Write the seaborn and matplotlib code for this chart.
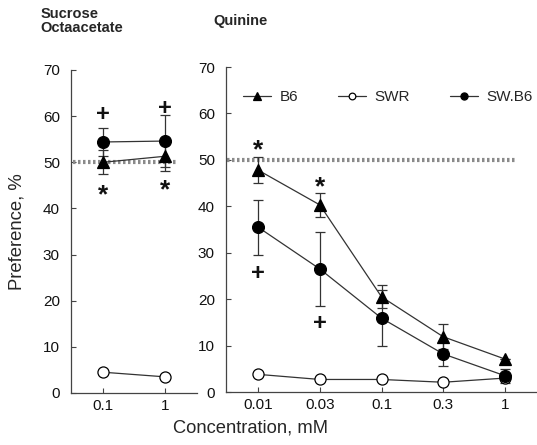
import pandas as pd
import matplotlib.pyplot as plt
import seaborn as sns

# Sucrose octaacetate (left panel)
soa_conc = ['0.1', '1']
soa_b6 = [50.0, 51.3]
soa_b6_err = [2.6, 3.1]
soa_swr = [4.5, 3.5]
soa_swb6 = [54.4, 54.6]
soa_swb6_err = [3.0, 5.6]
soa_star = [44.3, 45.3]     # asterisks under B6
soa_plus = [61.2, 62.4]     # plus signs over SW.B6

# Quinine (right panel)
qui_conc = ['0.01', '0.03', '0.1', '0.3', '1']
qui_b6 = [47.8, 40.3, 20.5, 11.9, 7.1]
qui_b6_err = [2.8, 2.6, 2.5, 2.7, 0.0]
qui_swr = [3.8, 2.7, 2.7, 2.1, 3.0]
qui_swb6 = [35.5, 26.5, 15.9, 8.2, 3.5]
qui_swb6_err = [5.9, 8.0, 6.0, 2.7, 1.5]
qui_star = [53.4, 45.5, None, None, None]
qui_plus = [26.3, 15.5, None, None, None]

sns.set_theme(style='ticks')
plt.rcParams['font.family'] = ['Liberation Sans', 'DejaVu Sans']

fig = plt.figure(figsize=(5.37, 4.45), dpi=100)
ax1 = fig.add_axes([0.1322, 0.1169, 0.2346, 0.7258])
ax2 = fig.add_axes([0.4209, 0.1191, 0.5791, 0.7303])

line_c = '#333333'
styles = {
    'B6': dict(marker='^', markerfacecolor='black', markersize=9),
    'SWR': dict(marker='o', markerfacecolor='white', markersize=8),
    'SW.B6': dict(marker='o', markerfacecolor='black', markersize=8.5),
}


def draw_panel(ax, conc, b6, b6_err, swr, swb6, swb6_err, stars, pluses, dot_span):
    pos = list(range(len(conc)))
    ax.hlines(50, dot_span[0], dot_span[1], colors='#8a8a8a',
              linestyles=(0, (0.6, 0.6)), linewidth=3.0, zorder=1)
    ax.errorbar(pos, b6, yerr=b6_err, fmt='none', ecolor=line_c,
                elinewidth=0.9, capsize=3.8, capthick=0.9, zorder=2)
    ax.errorbar(pos, swb6, yerr=swb6_err, fmt='none', ecolor=line_c,
                elinewidth=0.9, capsize=3.8, capthick=0.9, zorder=2)
    series = {'B6': b6, 'SWR': swr, 'SW.B6': swb6}
    for name, vals in series.items():
        df = pd.DataFrame({'pos': pos, 'value': vals})
        sns.lineplot(data=df, x='pos', y='value', ax=ax, color=line_c,
                     linewidth=0.9, markeredgecolor='black',
                     markeredgewidth=0.9, label=name, legend=False,
                     zorder=3, **styles[name])
    # the glyphs sit above their box centre, so nudge them down a little
    for p, s in zip(pos, stars):
        if s is not None:
            ax.annotate('*', (p, s), xytext=(0, -4.5), textcoords='offset points',
                        ha='center', va='center', fontsize=19,
                        fontweight='bold', color='#111111')
    for p, s in zip(pos, pluses):
        if s is not None:
            ax.annotate('+', (p, s), xytext=(0, -2.5), textcoords='offset points',
                        ha='center', va='center', fontsize=17,
                        fontweight='bold', color='#111111')

    ax.set_xticks(pos)
    ax.set_xticklabels(conc)
    ax.set_xlim(-0.52, len(conc) - 0.48)
    ax.set_ylim(0, 70)
    ax.set_yticks(range(0, 80, 10))
    ax.set_xlabel('')
    ax.set_ylabel('')
    ax.tick_params(axis='both', direction='in', length=3.5, width=0.8,
                   color='#444444', labelsize=11, labelcolor='#111111')
    ax.tick_params(axis='y', pad=8)
    ax.tick_params(axis='x', pad=4)
    for side in ['top', 'right']:
        ax.spines[side].set_visible(False)
    for side in ['left', 'bottom']:
        ax.spines[side].set_color('#444444')
        ax.spines[side].set_linewidth(0.9)


draw_panel(ax1, soa_conc, soa_b6, soa_b6_err, soa_swr, soa_swb6, soa_swb6_err,
           soa_star, soa_plus, (-0.48, 1.21))
draw_panel(ax2, qui_conc, qui_b6, qui_b6_err, qui_swr, qui_swb6, qui_swb6_err,
           qui_star, qui_plus, (-0.5, 4.19))
ax2.set_xlim(-0.52, 4.52)

handles, labels = ax2.get_legend_handles_labels()
ax2.legend(handles, labels, ncol=3, frameon=False, loc='center left',
           bbox_to_anchor=(0.055, 0.908), borderpad=0, borderaxespad=0,
           markerscale=0.6, handlelength=1.8, handletextpad=0.6,
           columnspacing=2.6, fontsize=11)

fig.text(0.075, 0.985, 'Sucrose\nOctaacetate', ha='left', va='top',
         fontsize=10.5, fontweight='bold', linespacing=1.0)
fig.text(0.397, 0.952, 'Quinine', ha='left', va='center',
         fontsize=10.5, fontweight='bold')
fig.text(0.032, 0.479, 'Preference, %', rotation=90, ha='center',
         va='center', fontsize=13.3)
fig.text(0.466, 0.038, 'Concentration, mM', ha='center', va='center',
         fontsize=13.2)

fig.savefig('out.png', dpi=100)
